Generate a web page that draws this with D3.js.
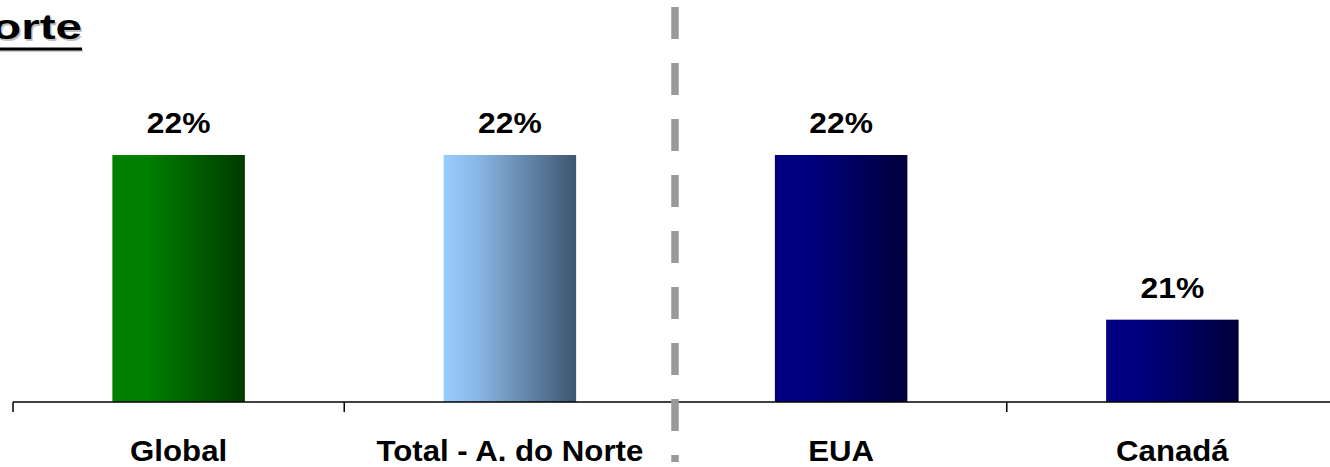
<!DOCTYPE html>
<html>
<head>
<meta charset="utf-8">
<script src="https://cdn.jsdelivr.net/npm/d3@7"></script>
<style>
  html, body { margin: 0; padding: 0; background: #fff; overflow: hidden; }
  svg { display: block; }
  text { font-family: "Liberation Sans", Arial, sans-serif; font-weight: bold; }
</style>
</head>
<body>
<svg id="chart" width="1330" height="467"></svg>
<script>
const categories = ["Global", "Total - A. do Norte", "EUA", "Canadá"];
const values = [22, 22, 22, 21];
const valueLabels = ["22%", "22%", "22%", "21%"];
const title = "América do Norte";
const gradients = [
  ["#008000", "#008000", "#003a00"],
  ["#99ccff", "#8ab8e6", "#3e5670"],
  ["#000080", "#000080", "#00003a"],
  ["#000080", "#000080", "#00003a"]
];

const svg = d3.select("#chart");
const W = 1330, H = 467;
const axisY = 402;

const x = d3.scaleBand().domain(categories).range([13, 1338]).paddingInner(0.6).paddingOuter(0.3);
const y = d3.scaleLinear().domain([20.5, 22]).range([axisY, 155]);

const defs = svg.append("defs");
gradients.forEach((g, i) => {
  const lg = defs.append("linearGradient").attr("id", "g" + i)
    .attr("x1", "0%").attr("x2", "100%").attr("y1", "0%").attr("y2", "0%");
  lg.append("stop").attr("offset", "0%").attr("stop-color", g[0]);
  lg.append("stop").attr("offset", "25%").attr("stop-color", g[1]);
  lg.append("stop").attr("offset", "100%").attr("stop-color", g[2]);
});

// bars
svg.selectAll("rect.bar").data(categories).enter().append("rect")
  .attr("class", "bar")
  .attr("x", d => x(d))
  .attr("width", x.bandwidth())
  .attr("y", (d, i) => y(values[i]))
  .attr("height", (d, i) => axisY - y(values[i]))
  .attr("fill", (d, i) => "url(#g" + i + ")");

// value labels
svg.selectAll("text.val").data(categories).enter().append("text")
  .attr("class", "val")
  .attr("text-anchor", "middle")
  .attr("font-size", 30)
  .attr("fill", "#000")
  .attr("transform", (d, i) => `translate(${x(d) + x.bandwidth() / 2},${y(values[i]) - 22}) scale(1.06,1)`)
  .text((d, i) => valueLabels[i]);

// axis
const step = x.step();
const boundaries = d3.range(categories.length + 1).map(i => 13 + i * step);
svg.append("line").attr("x1", 13).attr("x2", W).attr("y1", axisY).attr("y2", axisY)
  .attr("stroke", "#000").attr("stroke-width", 1.5);
svg.selectAll("line.tick").data(boundaries).enter().append("line")
  .attr("class", "tick")
  .attr("x1", d => d).attr("x2", d => d)
  .attr("y1", axisY).attr("y2", axisY + 10)
  .attr("stroke", "#000").attr("stroke-width", 1.5);

// category labels
svg.selectAll("text.cat").data(categories).enter().append("text")
  .attr("class", "cat")
  .attr("text-anchor", "middle")
  .attr("font-size", 30)
  .attr("fill", "#000")
  .attr("transform", d => `translate(${x(d) + x.bandwidth() / 2},461) scale(1.04,1)`)
  .text(d => d);

// dashed separator
const sepX = boundaries[2] - 0.5;
svg.append("line").attr("x1", sepX).attr("x2", sepX).attr("y1", 7).attr("y2", 462)
  .attr("stroke", "#999").attr("stroke-width", 7.5)
  .attr("stroke-dasharray", "32,24");

// title (cut off on the left, as in the reference)
const tg = svg.append("g").attr("transform", "translate(82,39) scale(1.36,1)");
tg.append("text").attr("x", 1.1).attr("y", 1.5).attr("text-anchor", "end")
  .attr("font-size", 35).attr("fill", "#999").attr("opacity", 0.6).text(title);
tg.append("text").attr("text-anchor", "end")
  .attr("font-size", 35).attr("fill", "#000").text(title);
svg.append("line").attr("x1", 0).attr("x2", 83).attr("y1", 50.5).attr("y2", 50.5)
  .attr("stroke", "#aaa").attr("stroke-width", 3).attr("opacity", 0.6);
svg.append("line").attr("x1", 0).attr("x2", 82).attr("y1", 49).attr("y2", 49)
  .attr("stroke", "#000").attr("stroke-width", 3);
</script>
</body>
</html>
